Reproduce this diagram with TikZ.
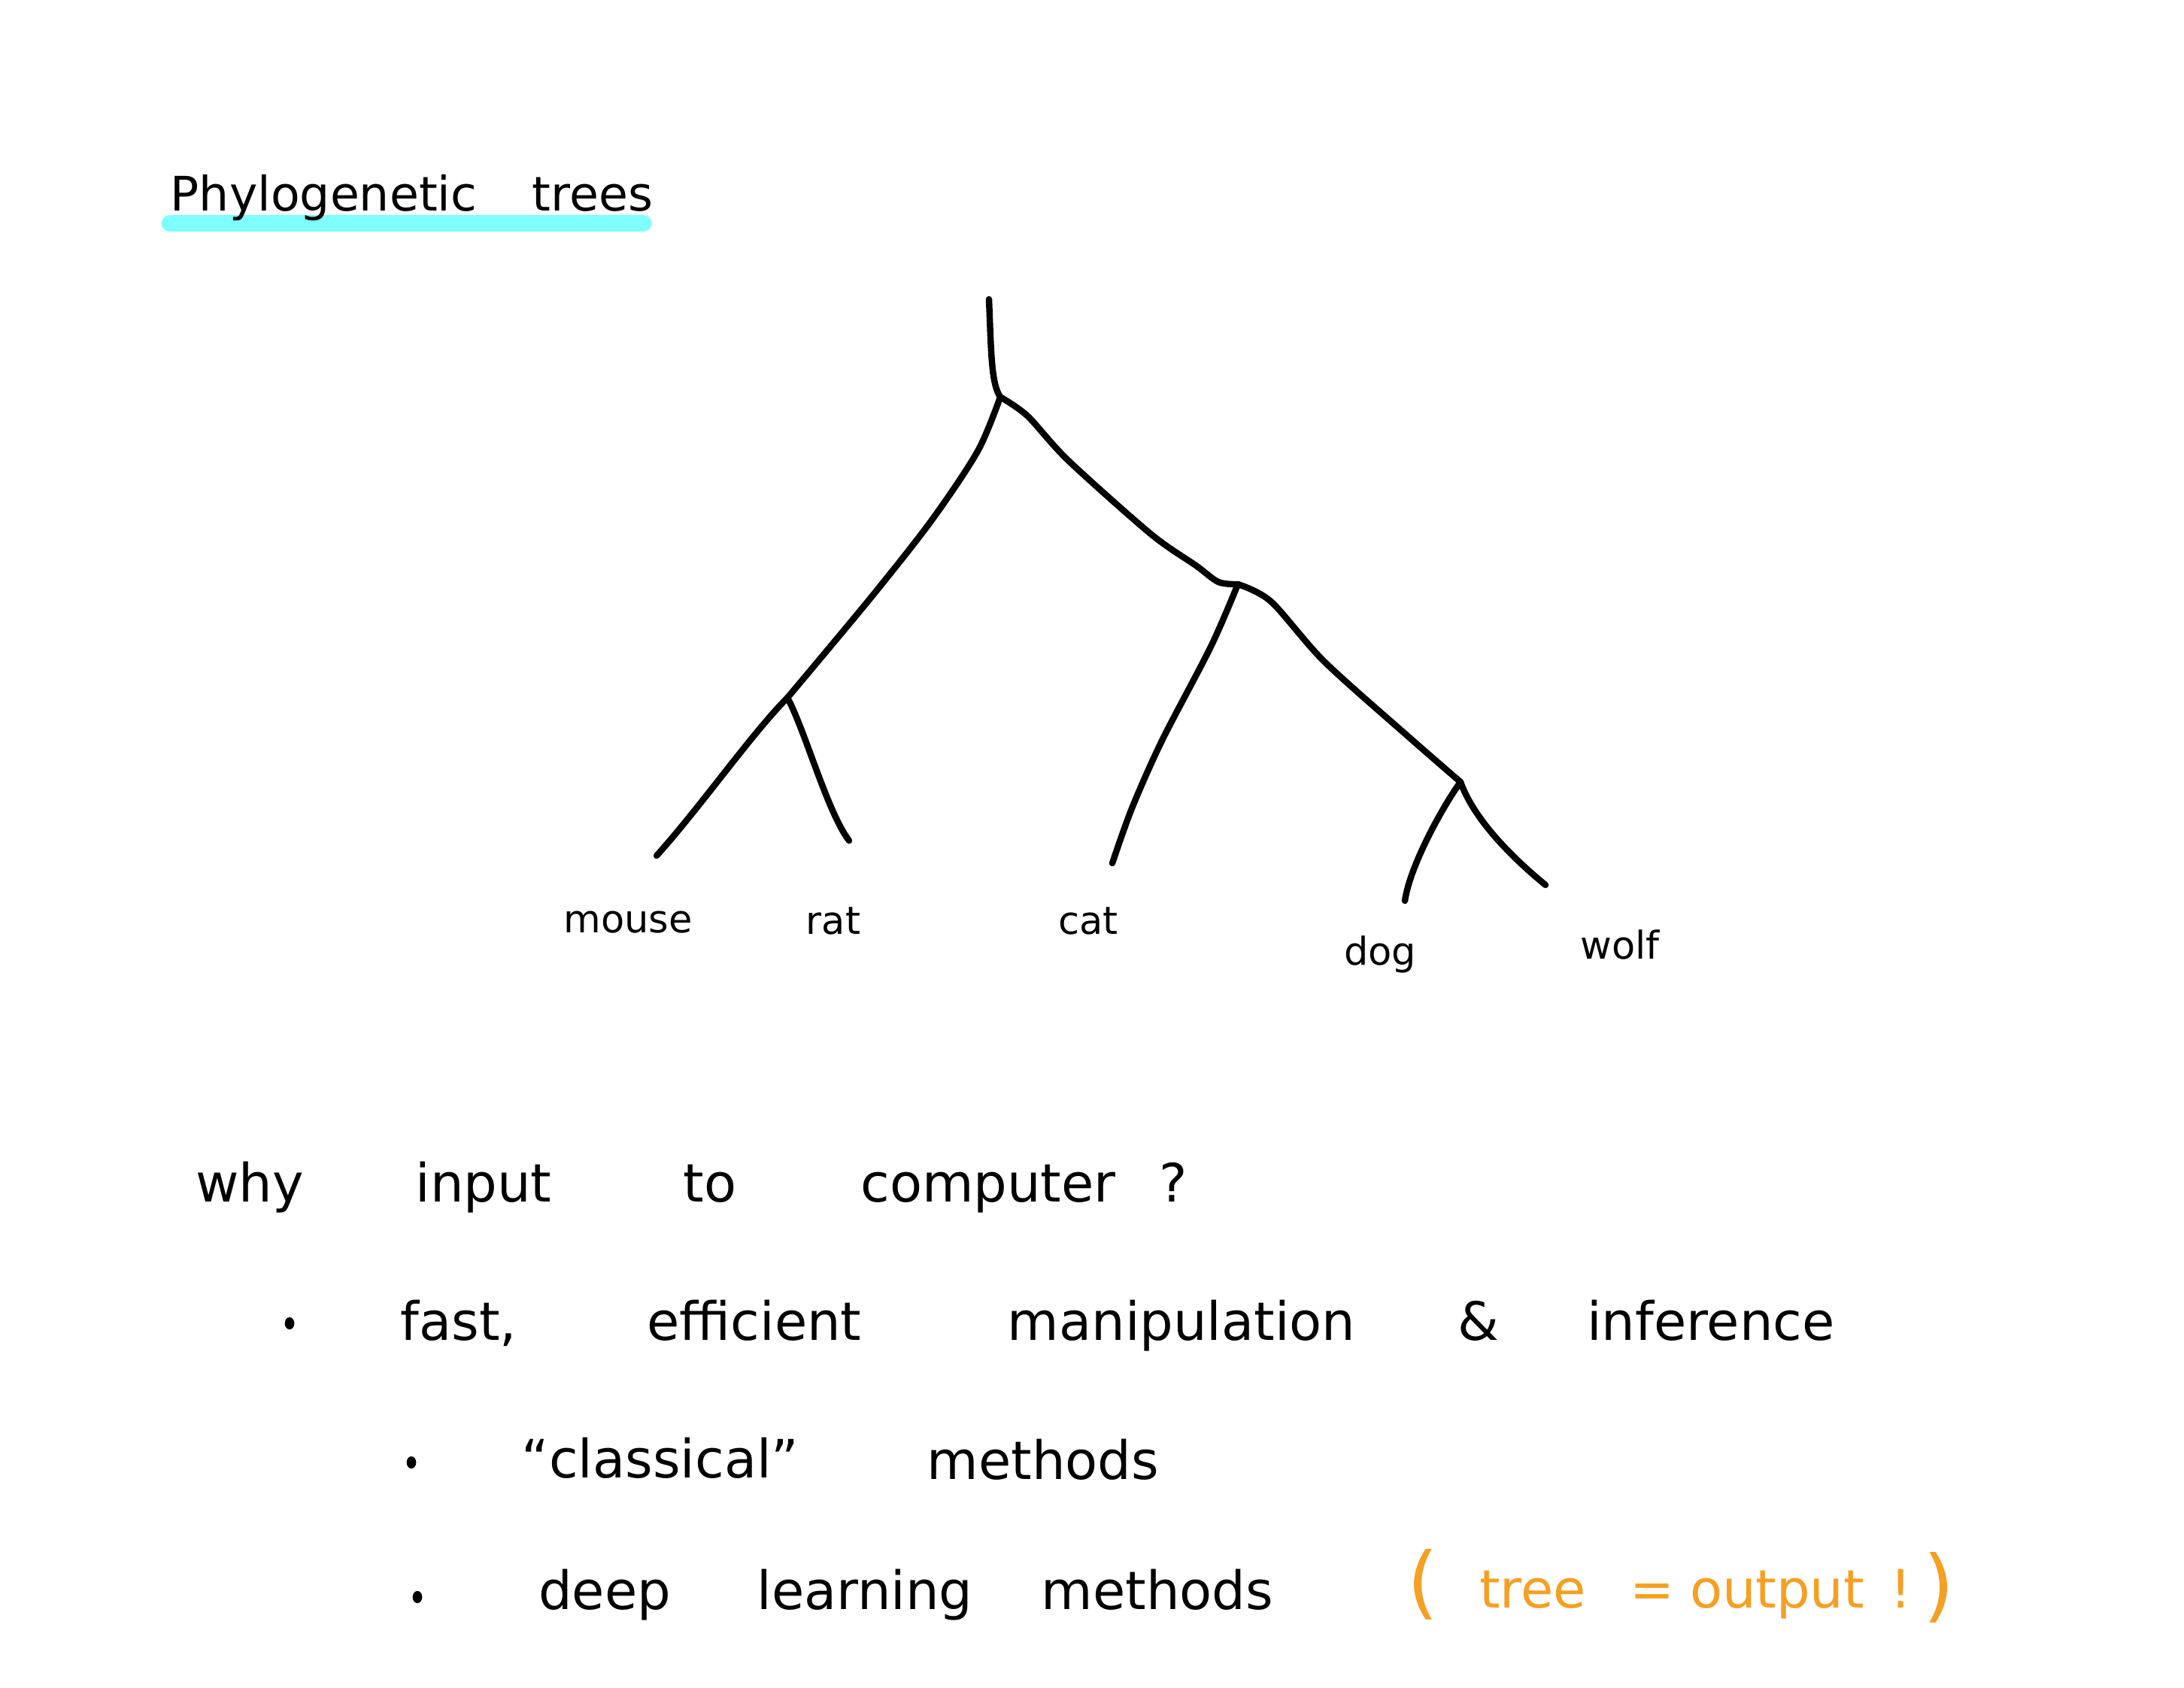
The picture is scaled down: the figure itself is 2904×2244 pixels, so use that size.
\documentclass[tikz,border=0pt]{standalone}
\usepackage{fontspec}
\usetikzlibrary{shapes.geometric}
\newfontfamily\hand{DejaVu Sans}
\definecolor{hilite}{HTML}{80FFFF}
\definecolor{orangeink}{HTML}{F5A023}
\begin{document}
\begin{tikzpicture}[x=0.01cm,y=-0.01cm,
  branch/.style={line width=2.4pt,line cap=round,line join=round},
  title/.style={font=\hand\fontsize{18}{22}\selectfont,anchor=base west,inner sep=0},
  leaf/.style={font=\hand\fontsize{14.5}{18}\selectfont,anchor=base,inner sep=0},
  word/.style={font=\hand\fontsize{20}{24}\selectfont,anchor=base,inner sep=0},
  note/.style={word,text=orangeink},
  paren/.style={font=\hand\fontsize{30}{34}\selectfont,anchor=base,inner sep=0,text=orangeink},
  dot/.style={ellipse,fill=black,inner sep=0,minimum width=3.6pt,minimum height=4.6pt}]
\useasboundingbox[fill=white] (0,0) rectangle (2904,2244);

% title with highlight
\coordinate (hlL) at (226,297);
\coordinate (hlR) at (855,297);
\draw[hilite,line width=6.5pt,line cap=round] (hlL) -- (hlR);
\node[title] (t1) at (226,280) {Phylogenetic};
\node[title] (t2) at (707,280) {trees};

% tree
\coordinate (top) at (1315,398);
\coordinate (A) at (1330,528);
\coordinate (B) at (1047,928);
\coordinate (C) at (1646,777);
\coordinate (D) at (1942,1040);
\coordinate (mouseEnd) at (873,1138);
\coordinate (ratEnd) at (1129,1118);
\coordinate (catEnd) at (1479,1148);
\coordinate (dogEnd) at (1868,1198);
\coordinate (wolfEnd) at (2055,1177);

\draw[branch] (top) .. controls (1318,470) and (1318,510) .. (A);
\draw[branch] plot[smooth] coordinates {(A) (1300,600) (1238,693) (1157,796) (B)};
\draw[branch] plot[smooth] coordinates {(A) (1366,553) (1420,612) (1530,710) (1590,752) (1620,774) (C)};
\draw[branch] (B) .. controls (1000,975) and (930,1075) .. (mouseEnd);
\draw[branch] (B) .. controls (1070,970) and (1100,1080) .. (ratEnd);
\draw[branch] plot[smooth] coordinates {(C) (1610,860) (1545,985) (1505,1075) (catEnd)};
\draw[branch] plot[smooth] coordinates {(C) (1690,800) (1761,880) (1873,980) (D)};
\draw[branch] (D) .. controls (1920,1070) and (1875,1150) .. (dogEnd);
\draw[branch] (D) .. controls (1960,1090) and (2010,1140) .. (wolfEnd);

\node[leaf] (mouse) at (835,1240) {mouse};
\node[leaf] (rat) at (1108,1242) {rat};
\node[leaf] (cat) at (1447,1242) {cat};
\node[leaf] (dog) at (1835,1283) {dog};
\node[leaf] (wolf) at (2154,1275) {wolf};

% question line
\node[word] (w1) at (332,1598) {why};
\node[word] (w2) at (643,1598) {input};
\node[word] (w3) at (944,1598) {to};
\node[word] (w4) at (1314,1598) {computer};
\node[word] (w5) at (1560,1598) {?};

% bullet 1
\node[dot] (b1) at (385,1760) {};
\node[word] (f1) at (610,1782) {fast,};
\node[word] (f2) at (1003,1782) {efficient};
\node[word] (f3) at (1571,1782) {manipulation};
\node[word] (f4) at (1966,1782) {\&};
\node[word] (f5) at (2275,1782) {inference};

% bullet 2
\node[dot] (b2) at (547,1945) {};
\node[word] (c1) at (878,1965) {“classical”};
\node[word] (c2) at (1387,1967) {methods};

% bullet 3
\node[dot] (b3) at (555,2124) {};
\node[word] (d1) at (804,2140) {deep};
\node[word] (d2) at (1150,2140) {learning};
\node[word] (d3) at (1539,2140) {methods};
\node[paren] (p1) at (1892,2140) {(};
\node[note] (o1) at (2038,2138) {tree};
\node[note] (o2) at (2197,2138) {=};
\node[note] (o3) at (2363,2138) {output};
\node[note] (o4) at (2528,2138) {!};
\node[paren] (p2) at (2578,2144) {)};
\end{tikzpicture}
\end{document}
